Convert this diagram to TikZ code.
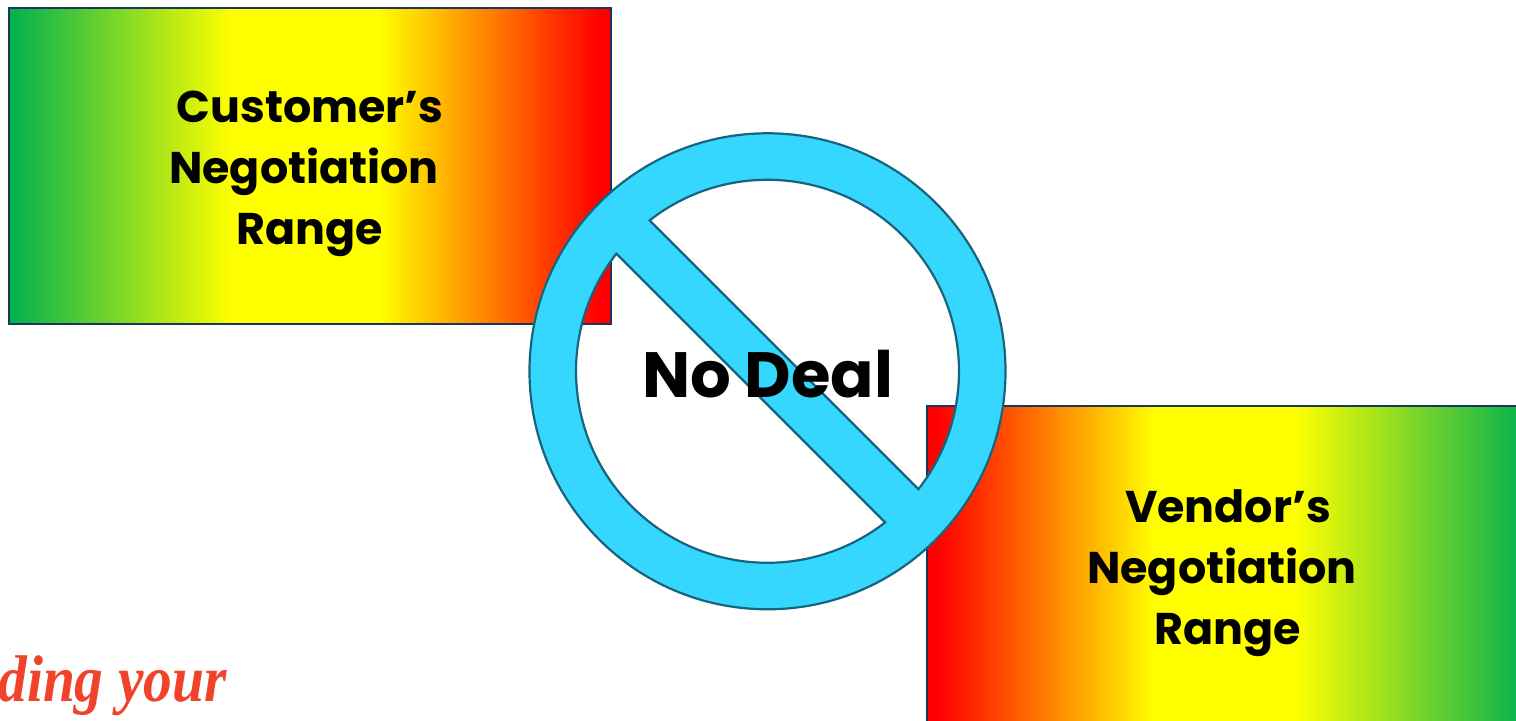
\documentclass[tikz,border=0pt]{standalone}
\usepackage{fontspec}
\usetikzlibrary{calc}
\setmainfont{Poppins}[BoldFont={Poppins Bold}]
\newfontfamily\scriptish{Liberation Serif}
\definecolor{gr}{RGB}{0,176,80}
\definecolor{yl}{RGB}{255,255,0}
\definecolor{rd}{RGB}{255,0,0}
\definecolor{edgeblue}{RGB}{26,54,93}
\definecolor{ringfill}{RGB}{53,215,255}
\definecolor{ringedge}{RGB}{22,100,125}
\definecolor{scriptred}{RGB}{240,67,42}
\pgfdeclarehorizontalshading{custrange}{100bp}{color(0bp)=(gr); color(25bp)=(gr); color(43.5bp)=(yl); color(55.7bp)=(yl); color(74bp)=(rd); color(100bp)=(rd)}
\pgfdeclarehorizontalshading{vendrange}{100bp}{color(0bp)=(rd); color(26bp)=(rd); color(44bp)=(yl); color(55.5bp)=(yl); color(75bp)=(gr); color(100bp)=(gr)}
\tikzset{
  x=0.5pt,y=0.5pt,
  rangebox/.style={draw=edgeblue,line width=1pt,anchor=north west,inner sep=0pt,minimum width=301pt,minimum height=158pt},
  rangetext/.style={font=\bfseries\fontsize{22.2}{30.5}\selectfont,align=center,inner sep=0pt,text=black},
  ringstyle/.style={fill=ringfill,draw=ringedge,line width=1.1pt,even odd rule},
}
\begin{document}
\begin{tikzpicture}
\useasboundingbox (0,0) rectangle (1516,721);
\node[rangebox,shading=custrange] (cust) at (8,714) {};
\node[rangebox,shading=vendrange] (vend) at (926,316) {};
\coordinate (c) at (767.5,349.7);
\draw[ringstyle] (c) circle[radius=238]
  ($(c)+(142.1:191.5)$) arc[start angle=142.1,end angle=307.9,radius=191.5] -- cycle
  ($(c)+(128:191.5)$) arc[start angle=128,end angle=-38,radius=191.5] -- cycle;
\node[rangetext] (custlabel) at (310,547) {Customer’s\\Negotiation\hspace*{6pt}\mbox{}\\Range};
\node[rangetext] (vendlabel) at (1228,148) {Vendor’s\\Negotiation\hspace*{6pt}\mbox{}\\Range};
\node[font=\bfseries\fontsize{32}{38}\selectfont,inner sep=0pt,text=black] (nodeal) at (767.5,347) {No Deal};
\node[font=\scriptish\bfseries\itshape\fontsize{33}{40}\selectfont,text=scriptred,inner sep=0pt,anchor=base west] (tagline) at (-2,19) {\scalebox{.87}[1]{ding your}};
\end{tikzpicture}
\end{document}
